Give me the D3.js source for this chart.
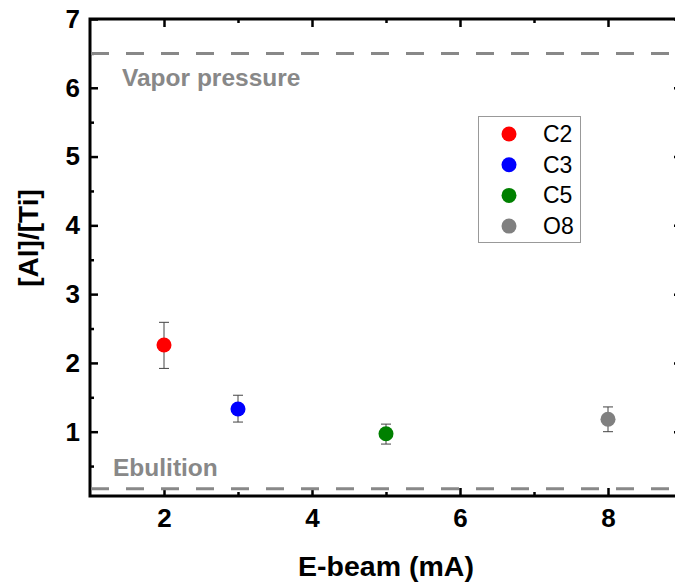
<!DOCTYPE html>
<html><head><meta charset="utf-8">
<script src="https://cdn.jsdelivr.net/npm/d3@7"></script>
<style>
body{margin:0;background:#fff;}
svg{display:block;font-family:"Liberation Sans",Arial,sans-serif;}
</style></head>
<body><svg id="c" width="675" height="583"></svg>
<script>
const categories = ["C2","C3","C5","O8"];
const xValues = [2,3,5,8];
const yValues = [2.26,1.33,0.97,1.18];
const errLow = [1.92,1.14,0.82,1.00];
const errHigh = [2.59,1.53,1.11,1.36];
const colors = ["#ff0000","#0000ff","#008000","#808080"];
const xTicks = [2,4,6,8];
const xMinor = [3,5,7];
const yTicks = [1,2,3,4,5,6,7];
const yMinor = [0.5,1.5,2.5,3.5,4.5,5.5,6.5];
const refLines = [6.5, 0.17];
const refLabels = ["Vapor pressure","Ebulition"];

const svg = d3.select("#c");
const L=90,R=682,T=19,B=496;
const x = d3.scaleLinear().domain([1,9]).range([L,R]);
const y = d3.scaleLinear().domain([0.065,7]).range([B,T]);

function styleAxis(g){
  g.select(".domain").remove();
  g.selectAll(".tick line").attr("stroke","#000").attr("stroke-width",2.5);
  g.selectAll(".tick text").attr("fill","#000").style("font-size","26px").style("font-weight","bold")
   .style("font-family","'Liberation Sans',Arial,sans-serif");
}
// bottom
svg.append("g").attr("transform",`translate(0,${B})`)
  .call(d3.axisBottom(x).tickValues(xTicks).tickSizeInner(-8).tickSizeOuter(0).tickPadding(13)).call(styleAxis);
svg.append("g").attr("transform",`translate(0,${B})`)
  .call(d3.axisBottom(x).tickValues(xMinor).tickSizeInner(-4).tickSizeOuter(0).tickFormat("")).call(styleAxis);
// top
svg.append("g").attr("transform",`translate(0,${T})`)
  .call(d3.axisTop(x).tickValues(xTicks).tickSizeInner(-8).tickSizeOuter(0).tickFormat("")).call(styleAxis);
svg.append("g").attr("transform",`translate(0,${T})`)
  .call(d3.axisTop(x).tickValues(xMinor).tickSizeInner(-4).tickSizeOuter(0).tickFormat("")).call(styleAxis);
// left
svg.append("g").attr("transform",`translate(${L},0)`)
  .call(d3.axisLeft(y).tickValues(yTicks).tickSizeInner(-8).tickSizeOuter(0).tickPadding(10).tickFormat(d3.format("d"))).call(styleAxis);
svg.append("g").attr("transform",`translate(${L},0)`)
  .call(d3.axisLeft(y).tickValues(yMinor).tickSizeInner(-4).tickSizeOuter(0).tickFormat("")).call(styleAxis);
// right
svg.append("g").attr("transform",`translate(${R},0)`)
  .call(d3.axisRight(y).tickValues(yTicks).tickSizeInner(-8).tickSizeOuter(0).tickFormat("")).call(styleAxis);
svg.append("g").attr("transform",`translate(${R},0)`)
  .call(d3.axisRight(y).tickValues(yMinor).tickSizeInner(-4).tickSizeOuter(0).tickFormat("")).call(styleAxis);

// frame
svg.append("rect").attr("x",L).attr("y",T).attr("width",R-L).attr("height",B-T)
  .attr("fill","none").attr("stroke","#000").attr("stroke-width",3);

// reference lines
svg.selectAll("line.ref").data(refLines).join("line").attr("class","ref")
  .attr("x1",L+1).attr("x2",R).attr("y1",d=>y(d)).attr("y2",d=>y(d))
  .attr("stroke","#888").attr("stroke-width",3).attr("stroke-dasharray","18,17");
svg.append("text").attr("x",122).attr("y",86).text(refLabels[0])
  .attr("fill","#888").style("font-size","24.5px").style("font-weight","bold");
svg.append("text").attr("x",113).attr("y",476).text(refLabels[1])
  .attr("fill","#888").style("font-size","24.5px").style("font-weight","bold");

// error bars
const data = categories.map((c,i)=>({c,x:xValues[i],y:yValues[i],lo:errLow[i],hi:errHigh[i],col:colors[i]}));
const eb = svg.append("g");
data.forEach(d=>{
  const cx=x(d.x);
  eb.append("line").attr("x1",cx).attr("x2",cx).attr("y1",y(d.hi)).attr("y2",y(d.lo)).attr("stroke","#444").attr("stroke-width",1);
  eb.append("line").attr("x1",cx-5).attr("x2",cx+5).attr("y1",y(d.hi)).attr("y2",y(d.hi)).attr("stroke","#444").attr("stroke-width",1);
  eb.append("line").attr("x1",cx-5).attr("x2",cx+5).attr("y1",y(d.lo)).attr("y2",y(d.lo)).attr("stroke","#444").attr("stroke-width",1);
});
svg.append("g").selectAll("circle").data(data).join("circle")
  .attr("cx",d=>x(d.x)).attr("cy",d=>y(d.y)).attr("r",7.5).attr("fill",d=>d.col);

// legend
const lg = svg.append("g");
lg.append("rect").attr("x",478.5).attr("y",116.5).attr("width",102).attr("height",126)
  .attr("fill","#fff").attr("stroke","#999").attr("stroke-width",1);
data.forEach((d,i)=>{
  const yy = 134 + i*30.7;
  lg.append("circle").attr("cx",509).attr("cy",yy).attr("r",7.5).attr("fill",d.col);
  lg.append("text").attr("x",543).attr("y",yy+8).text(d.c).style("font-size","23px").attr("fill","#000");
});

// axis titles
svg.append("text").attr("x",386).attr("y",576).attr("text-anchor","middle")
  .text("E-beam (mA)").style("font-size","28.5px").style("font-weight","bold");
svg.append("text").attr("transform","translate(38,238) rotate(-90)").attr("text-anchor","middle")
  .text("[Al]/[Ti]").style("font-size","28px").style("font-weight","bold");
</script></body></html>
